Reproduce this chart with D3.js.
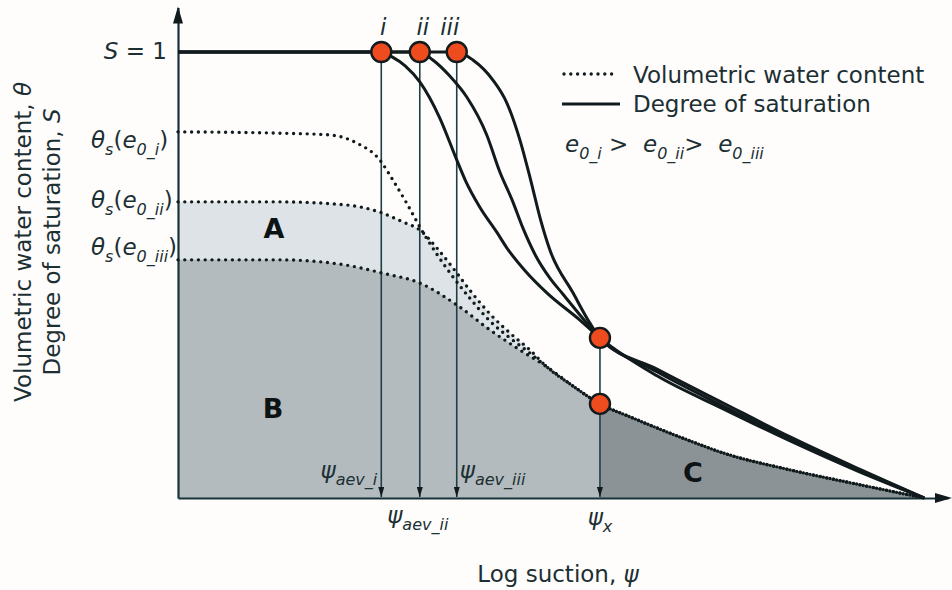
<!DOCTYPE html>
<html>
<head>
<meta charset="utf-8">
<script src="https://cdn.jsdelivr.net/npm/d3@7"></script>
<style>
  html, body { margin: 0; padding: 0; background: #fefdfc; }
  svg { display: block; font-family: "DejaVu Sans", "Noto Sans", sans-serif; }
  text { fill: #1c2f33; }
</style>
</head>
<body>
<svg id="chart" width="952" height="590"></svg>
<script>
// Air-entry suctions of the three specimens and the reference suction psi_x (log-suction units)
const specimens = ["i", "ii", "iii"];
const psiAev = [2.64, 3.14, 3.62];
const psiX = 5.48;

// Degree of saturation S against log suction
const satI   = [[0,1],[2.64,1],[2.78,0.989],[2.95,0.969],[3.14,0.933],[3.40,0.852],[3.62,0.758],[3.73,0.713],[3.92,0.652],[4.14,0.596],[4.27,0.561],[4.51,0.509],[4.79,0.460],[5.22,0.399],[5.48,0.359],[6.22,0.274],[7.08,0.200],[7.95,0.128],[8.82,0.061],[9.69,0]];
const satII  = [[0,1],[3.14,1],[3.31,0.982],[3.53,0.946],[3.75,0.899],[4.01,0.814],[4.18,0.731],[4.34,0.668],[4.48,0.605],[4.64,0.545],[4.83,0.493],[5.00,0.457],[5.31,0.392],[5.48,0.359],[6.22,0.283],[7.08,0.206],[7.95,0.132],[8.82,0.065],[9.69,0]];
const satIII = [[0,1],[3.62,1],[3.83,0.982],[4.09,0.937],[4.27,0.886],[4.44,0.803],[4.58,0.713],[4.71,0.623],[4.83,0.556],[5.13,0.460],[5.35,0.392],[5.48,0.359],[6.22,0.289],[7.08,0.213],[7.95,0.137],[8.82,0.067],[9.69,0]];

// Volumetric water content: individual branches, then the shared residual branch
const vwcIHead   = [[0,0.821],[1.32,0.818],[1.97,0.814],[2.32,0.796],[2.62,0.758],[2.79,0.713],[2.97,0.661],[3.14,0.608],[3.36,0.547],[3.57,0.496],[3.79,0.448],[4.05,0.397],[4.31,0.359],[4.57,0.325],[4.79,0.294],[5.13,0.251]];
const vwcIIHead  = [[0,0.664],[1.32,0.664],[2.19,0.657],[2.62,0.641],[2.92,0.619],[3.14,0.601],[3.36,0.561],[3.57,0.516],[3.79,0.466],[4.05,0.413],[4.31,0.370],[4.57,0.332],[4.79,0.294],[5.13,0.251]];
const vwcIIIHead = [[0,0.534],[1.32,0.534],[2.19,0.522],[2.66,0.504],[3.14,0.482],[3.62,0.433],[4.05,0.377],[4.44,0.332],[4.79,0.294],[5.13,0.251]];
const vwcTail    = [[5.48,0.211],[5.87,0.182],[6.22,0.157],[6.65,0.128],[7.08,0.101],[7.95,0.063],[8.82,0.031],[9.38,0.011],[9.69,0]];

const vwcI = vwcIHead.concat(vwcTail);
const vwcII = vwcIIHead.concat(vwcTail);
const vwcIII = vwcIIIHead.concat(vwcTail);

const svg = d3.select("#chart");
const x = d3.scaleLinear().domain([0, 10]).range([178, 948]);
const y = d3.scaleLinear().domain([0, 1]).range([498, 52]);

const ink = "#111a1c";
const lineGen = d3.line().x(d => x(d[0])).y(d => y(d[1])).curve(d3.curveMonotoneX);
const areaGen = d3.area().x(d => x(d[0])).y0(y(0)).y1(d => y(d[1])).curve(d3.curveMonotoneX);

// Shaded zones A, B, C
svg.append("path").attr("d", areaGen(vwcII)).attr("fill", "#dde3e7");
svg.append("path").attr("d", areaGen(vwcIII.filter(d => d[0] <= psiX))).attr("fill", "#b3bbbf");
svg.append("path").attr("d", areaGen(vwcIII.filter(d => d[0] >= psiX))).attr("fill", "#8b9397");

// Arrowhead marker for the drop lines
svg.append("defs").append("marker")
  .attr("id", "tip").attr("viewBox", "0 0 6 10").attr("refX", 3).attr("refY", 10)
  .attr("markerWidth", 6).attr("markerHeight", 10).attr("markerUnits", "userSpaceOnUse")
  .attr("orient", "0")
  .append("path").attr("d", "M0,0 L6,0 L3,10 Z").attr("fill", ink);

// Axes (no ticks) with arrowheads
svg.append("g").attr("transform", `translate(0,${y(0)})`)
  .call(d3.axisBottom(x).tickValues([]).tickSizeOuter(0));
const yTop = d3.scaleLinear().domain([0, 1.1]).range([y(0), y(1.1)]);
svg.append("g").attr("transform", `translate(${x(0)},0)`)
  .call(d3.axisLeft(yTop).tickValues([]).tickSizeOuter(0));
svg.selectAll(".domain").attr("stroke", "#17333a").attr("stroke-width", 2.2);
svg.append("path")
  .attr("d", `M${x(0)},${y(1.1) - 1} L${x(0) - 5},${y(1.1) + 16} L${x(0) + 5},${y(1.1) + 16} Z`)
  .attr("fill", ink);
svg.append("path")
  .attr("d", `M${x(10) + 4},${y(0)} L${x(10) - 13},${y(0) - 5} L${x(10) - 13},${y(0) + 5} Z`)
  .attr("fill", ink);

// Drop lines from the air-entry points and from psi_x
const drops = psiAev.map(v => ({ v, top: y(1) })).concat([{ v: psiX, top: y(0.359) }]);
svg.selectAll("line.drop").data(drops).enter().append("line")
  .attr("class", "drop")
  .attr("x1", d => x(d.v)).attr("x2", d => x(d.v))
  .attr("y1", d => d.top).attr("y2", y(0) - 1)
  .attr("stroke", "#1f3f46").attr("stroke-width", 1.6)
  .attr("marker-end", "url(#tip)");

// Volumetric water content (dotted)
[vwcI, vwcII, vwcIII].forEach(s => {
  svg.append("path").attr("d", lineGen(s)).attr("fill", "none")
    .attr("stroke", ink).attr("stroke-width", 3.4)
    .attr("stroke-linecap", "round").attr("stroke-dasharray", "0 6.8");
});

// Degree of saturation (solid)
[satI, satII, satIII].forEach(s => {
  svg.append("path").attr("d", lineGen(s)).attr("fill", "none")
    .attr("stroke", ink).attr("stroke-width", 3);
});

// Key points
const pts = psiAev.map(v => [v, 1]).concat([[psiX, 0.359], [psiX, 0.211]]);
svg.selectAll("circle.key").data(pts).enter().append("circle")
  .attr("class", "key")
  .attr("cx", d => x(d[0])).attr("cy", d => y(d[1])).attr("r", 10)
  .attr("fill", "#ee4b1f").attr("stroke", ink).attr("stroke-width", 2.4);

// Text with italic / subscript runs
function rich(px, py, parts, anchor, g) {
  const t = (g || svg).append("text").attr("x", px).attr("y", py)
    .attr("text-anchor", anchor || "start").attr("font-size", 23)
    .style("white-space", "pre");
  let shift = 0;
  parts.forEach(p => {
    const s = t.append("tspan").text(p.t);
    const target = p.sub ? 7 : 0;
    if (target !== shift) { s.attr("dy", target - shift); shift = target; }
    s.attr("font-size", p.sub ? 16 : (p.size || 23));
    if (p.it) s.attr("font-style", "italic");
    if (p.bold) s.attr("font-weight", "bold").style("fill", "#0d1213");
  });
  return t;
}

rich(167, 59, [{ t: "S", it: true }, { t: " = 1" }], "end");

const thetaBase = [148, 208, 255];
specimens.forEach((n, k) => {
  rich(91, thetaBase[k], [
    { t: "θ", it: true }, { t: "s", sub: true, it: true }, { t: "(" },
    { t: "e", it: true }, { t: "0_" + n, sub: true, it: true }, { t: ")" }
  ]);
});

const romanDx = [2, 3, -7];
specimens.forEach((n, k) => {
  rich(x(psiAev[k]) + romanDx[k], 35, [{ t: n, it: true }], "middle");
});

// Legend
svg.append("line").attr("x1", 564).attr("x2", 618).attr("y1", 74).attr("y2", 74)
  .attr("stroke", ink).attr("stroke-width", 3.4)
  .attr("stroke-linecap", "round").attr("stroke-dasharray", "0 6.8");
svg.append("line").attr("x1", 562).attr("x2", 620).attr("y1", 104).attr("y2", 104)
  .attr("stroke", ink).attr("stroke-width", 3);
rich(633, 83, [{ t: "Volumetric water content" }]);
rich(633, 112, [{ t: "Degree of saturation" }]);
rich(565, 152, [
  { t: "e", it: true }, { t: "0_i", sub: true, it: true }, { t: " >  " },
  { t: "e", it: true }, { t: "0_ii", sub: true, it: true }, { t: ">  " },
  { t: "e", it: true }, { t: "0_iii", sub: true, it: true }
]);

// Zone letters
[["A", 274, 238], ["B", 273, 418], ["C", 693, 482]].forEach(([s, px, py]) => {
  rich(px, py, [{ t: s, bold: true, size: 27 }], "middle");
});

// Suction markers
rich(x(psiAev[0]) - 4, 478, [{ t: "ψ", it: true }, { t: "aev_i", sub: true, it: true }], "end");
rich(x(psiAev[1]) - 2, 523, [{ t: "ψ", it: true }, { t: "aev_ii", sub: true, it: true }], "middle");
rich(x(psiAev[2]) + 3, 478, [{ t: "ψ", it: true }, { t: "aev_iii", sub: true, it: true }], "start");
rich(x(psiX), 525, [{ t: "ψ", it: true }, { t: "x", sub: true, it: true }], "middle");

// Axis titles
rich(558, 582, [{ t: "Log suction, " }, { t: "ψ", it: true }], "middle");
const yt = svg.append("g").attr("transform", "translate(31,242) rotate(-90)");
rich(0, 0, [{ t: "Volumetric water content, " }, { t: "θ", it: true }], "middle", yt);
rich(0, 29, [{ t: "Degree of saturation, " }, { t: "S", it: true }], "middle", yt);
</script>
</body>
</html>
